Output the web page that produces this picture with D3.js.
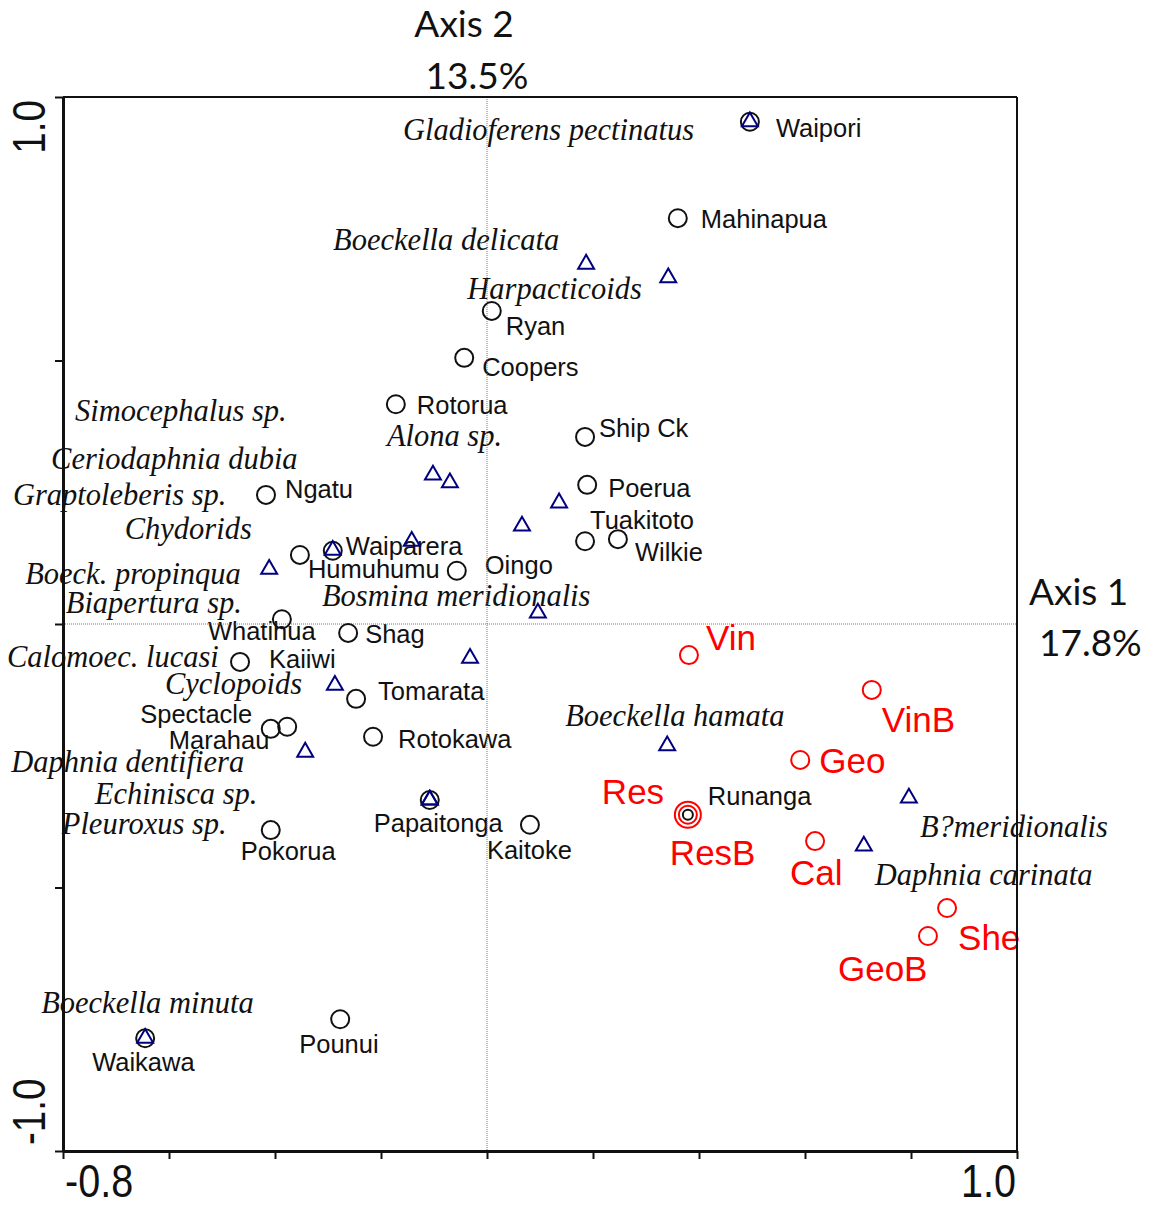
<!DOCTYPE html>
<html>
<head>
<meta charset="utf-8">
<script src="https://cdn.jsdelivr.net/npm/d3@7"></script>
<style>
  body { margin: 0; background: #fff; }
  svg { display: block; }
  .site { font-family: "Liberation Sans", Arial, sans-serif; font-size: 25.5px; fill: #111; }
  .spec { font-family: "Liberation Serif", "Times New Roman", serif; font-style: italic; font-size: 30.5px; fill: #111; }
  .env { font-family: "Liberation Sans", Arial, sans-serif; font-size: 35px; fill: #ff0000; }
  .title { font-family: Lato, "Open Sans", sans-serif; font-size: 37px; fill: #111; }
  .tick { font-family: "Liberation Sans", Arial, sans-serif; fill: #111; }
</style>
</head>
<body>
<div id="chart"></div>
<script>
// sites (black circles)
var siteNames = ['Waipori', 'Mahinapua', 'Ryan', 'Coopers', 'Rotorua', 'Ship Ck', 'Poerua', 'Ngatu',
   'Tuakitoto', 'Wilkie', 'Waiparera', 'Humuhumu', 'Oingo', 'Whatihua', 'Shag', 'Kaiiwi', 'Tomarata',
   'Spectacle', 'Marahau', 'Rotokawa', 'Papaitonga', 'Kaitoke', 'Pokorua', 'Runanga', 'Pounui', 'Waikawa'];
var siteAxis1 = [0.496, 0.360, 0.009, -0.043, -0.172, 0.185, 0.189, -0.417,
   0.185, 0.247, -0.291, -0.353, -0.057, -0.387, -0.262, -0.466, -0.247,
   -0.377, -0.408, -0.215, -0.108, 0.081, -0.408, 0.379, -0.277, -0.645];
var siteAxis2 = [0.953, 0.770, 0.594, 0.505, 0.417, 0.355, 0.264, 0.245,
   0.157, 0.161, 0.139, 0.131, 0.101, 0.009, -0.017, -0.072, -0.142,
   -0.195, -0.199, -0.214, -0.334, -0.381, -0.391, -0.362, -0.750, -0.786];

// species (triangles)
var speciesNames = ['Gladioferens pectinatus', 'Boeckella delicata', 'Harpacticoids', 'Simocephalus sp.',
   'Alona sp.', 'Ceriodaphnia dubia', 'Graptoleberis sp.', 'Chydorids', 'Biapertura sp.', 'Boeck. propinqua',
   'Bosmina meridionalis', 'Calomoec. lucasi', 'Cyclopoids', 'Daphnia dentifiera', 'Echinisca sp.',
   'Pleuroxus sp.', 'Boeckella hamata', 'B?meridionalis', 'Daphnia carinata', 'Boeckella minuta'];
var speciesAxis1 = [0.496, 0.187, 0.342, -0.102, -0.070, 0.136, 0.066, -0.142, -0.291, -0.411,
   0.096, -0.032, -0.287, -0.343, -0.108, -0.108, 0.340, 0.796, 0.711, -0.645];
var speciesAxis2 = [0.953, 0.683, 0.657, 0.283, 0.268, 0.230, 0.186, 0.157, 0.140, 0.104,
   0.021, -0.065, -0.116, -0.243, -0.334, -0.334, -0.231, -0.330, -0.421, -0.786];

// environmental variables (red)
var envNames = ['Vin', 'VinB', 'Geo', 'Res', 'ResB', 'Cal', 'She', 'GeoB'];
var envAxis1 = [0.381, 0.726, 0.591, 0.379, 0.379, 0.619, 0.868, 0.832];
var envAxis2 = [-0.059, -0.125, -0.258, -0.362, -0.362, -0.412, -0.539, -0.592];

var xTicks = [-0.8, -0.6, -0.4, -0.2, 0, 0.2, 0.4, 0.6, 0.8, 1.0];
var yTicks = [-1.0, -0.5, 0, 0.5, 1.0];
var xTickLabels = ['-0.8', '1.0'];
var yTickLabels = ['-1.0', '1.0'];
var axisTitles = ['Axis 1', '17.8%', 'Axis 2', '13.5%'];

// label placement, pixel offsets from each mark
var siteLabelOffset = [[26, 15], [23, 10], [14, 24], [18, 18], [21, 10], [14, 0], [21, 12], [19, 3],
   [5, -12], [17, 22], [13, 4], [8, 23], [28, 3], [-74, 21], [17, 10], [29, 6], [22, 1],
   [-147, -4], [-102, 20], [25, 11], [-56, 32], [-43, 34], [-30, 30], [20, -10], [-41, 34], [-53, 33]];
var speciesLabelOffset = [[-347, 18], [-253, -14], [-201, 21], [-358, -54], [-63, -37], [-508, -34],
   [-509, -21], [-287, -2], [-267, 63], [-244, 15], [-216, -7], [-463, 9], [-170, 9], [-294, 20],
   [-335, 4], [-368, 34], [-102, -20], [11, 39], [11, 39], [-104, -25]];
var envLabelOffset = [[17, -5], [10, 42], [19, 13], [-86, -11], [-18, 50], [-25, 44], [11, 42], [-90, 45]];

function biplot() {
   var width = 1153, height = 1207;
   var x = d3.scaleLinear().domain([-0.8, 1.0]).range([63, 1017]);
   var y = d3.scaleLinear().domain([-1.0, 1.0]).range([1151, 97]);

   var svg = d3.select('#chart').append('svg')
      .attr('width', width)
      .attr('height', height);

   var sites = siteNames.map(function (n, i) { return {name: n, a1: siteAxis1[i], a2: siteAxis2[i], off: siteLabelOffset[i]}; });
   var species = speciesNames.map(function (n, i) { return {name: n, a1: speciesAxis1[i], a2: speciesAxis2[i], off: speciesLabelOffset[i]}; });
   var envs = envNames.map(function (n, i) { return {name: n, a1: envAxis1[i], a2: envAxis2[i], off: envLabelOffset[i]}; });

   // labels first, lines are drawn over them
   svg.append('g').selectAll('text').data(species).enter().append('text')
      .attr('class', 'spec')
      .attr('x', function (d) { return x(d.a1) + d.off[0]; })
      .attr('y', function (d) { return y(d.a2) + d.off[1]; })
      .text(function (d) { return d.name; });

   svg.append('g').selectAll('text').data(sites).enter().append('text')
      .attr('class', 'site')
      .attr('x', function (d) { return x(d.a1) + d.off[0]; })
      .attr('y', function (d) { return y(d.a2) + d.off[1]; })
      .text(function (d) { return d.name; });

   svg.append('g').selectAll('text').data(envs).enter().append('text')
      .attr('class', 'env')
      .attr('x', function (d) { return x(d.a1) + d.off[0]; })
      .attr('y', function (d) { return y(d.a2) + d.off[1]; })
      .text(function (d) { return d.name; });

   // dotted zero lines
   svg.append('line')
      .attr('x1', x(0)).attr('x2', x(0))
      .attr('y1', y(1)).attr('y2', y(-1))
      .attr('stroke', '#777').attr('stroke-width', 1).attr('stroke-dasharray', '1,1');
   svg.append('line')
      .attr('x1', x(-0.8)).attr('x2', x(1))
      .attr('y1', y(0)).attr('y2', y(0))
      .attr('stroke', '#777').attr('stroke-width', 1).attr('stroke-dasharray', '1,1');

   // frame top + right
   svg.append('line')
      .attr('x1', x(-0.8)).attr('x2', x(1)).attr('y1', y(1)).attr('y2', y(1))
      .attr('stroke', '#111').attr('stroke-width', 2);
   svg.append('line')
      .attr('x1', x(1)).attr('x2', x(1)).attr('y1', y(1)).attr('y2', y(-1))
      .attr('stroke', '#111').attr('stroke-width', 2);

   var xAxis = svg.append('g')
      .attr('transform', 'translate(0,' + y(-1) + ')')
      .call(d3.axisBottom(x).tickValues(xTicks).tickSize(8).tickSizeOuter(0).tickFormat(''));
   var yAxis = svg.append('g')
      .attr('transform', 'translate(' + x(-0.8) + ',0)')
      .call(d3.axisLeft(y).tickValues(yTicks).tickSize(8).tickSizeOuter(0).tickFormat(''));
   [xAxis, yAxis].forEach(function (g) {
      g.select('.domain').attr('stroke', '#111').attr('stroke-width', 3);
      g.selectAll('.tick line').attr('stroke', '#111').attr('stroke-width', 2);
   });

   // tick labels at axis ends, narrow face
   svg.append('text').attr('class', 'tick')
      .attr('transform', 'translate(' + (x(-0.8) + 2) + ',1197) scale(0.86,1)')
      .style('font-size', '46px').text(xTickLabels[0]);
   svg.append('text').attr('class', 'tick')
      .attr('transform', 'translate(' + (x(1) - 1) + ',1197) scale(0.86,1)')
      .attr('text-anchor', 'end')
      .style('font-size', '46px').text(xTickLabels[1]);
   svg.append('text').attr('class', 'tick')
      .attr('transform', 'translate(45,' + (y(-1) - 6) + ') rotate(-90) scale(0.84,1)')
      .style('font-size', '46px').text(yTickLabels[0]);
   svg.append('text').attr('class', 'tick')
      .attr('transform', 'translate(45,' + (y(1) + 3) + ') rotate(-90) scale(0.84,1)')
      .attr('text-anchor', 'end')
      .style('font-size', '46px').text(yTickLabels[1]);

   // axis titles
   svg.append('text').attr('class', 'title').attr('x', 1029).attr('y', 605).text(axisTitles[0]);
   svg.append('text').attr('class', 'title').attr('x', 1039).attr('y', 656).text(axisTitles[1]);
   svg.append('text').attr('class', 'title').attr('x', 464).attr('y', 37).attr('text-anchor', 'middle').text(axisTitles[2]);
   svg.append('text').attr('class', 'title').attr('x', 477).attr('y', 89).attr('text-anchor', 'middle').text(axisTitles[3]);

   // env circles: repeated positions get a bigger ring
   var seen = {};
   svg.append('g').selectAll('circle').data(envs).enter().append('circle')
      .attr('cx', function (d) { return x(d.a1); })
      .attr('cy', function (d) { return y(d.a2); })
      .attr('r', function (d) {
         var k = d.a1 + ',' + d.a2;
         seen[k] = (seen[k] || 0) + 1;
         return seen[k] === 1 ? 9 : 13;
      })
      .attr('fill', 'none').attr('stroke', '#ff0000').attr('stroke-width', 2);

   // site circles: smaller when sitting on an env point
   svg.append('g').selectAll('circle').data(sites).enter().append('circle')
      .attr('cx', function (d) { return x(d.a1); })
      .attr('cy', function (d) { return y(d.a2); })
      .attr('r', function (d) {
         return envs.some(function (e) { return Math.abs(e.a1 - d.a1) < 0.005 && Math.abs(e.a2 - d.a2) < 0.005; }) ? 5 : 9;
      })
      .attr('fill', 'none').attr('stroke', '#111').attr('stroke-width', 2);

   svg.append('g').selectAll('path').data(species).enter().append('path')
      .attr('transform', function (d) { return 'translate(' + x(d.a1) + ',' + y(d.a2) + ')'; })
      .attr('d', d3.symbol(d3.symbolTriangle, 110))
      .attr('fill', 'none').attr('stroke', '#000080').attr('stroke-width', 2);
}

biplot();
</script>
</body>
</html>
